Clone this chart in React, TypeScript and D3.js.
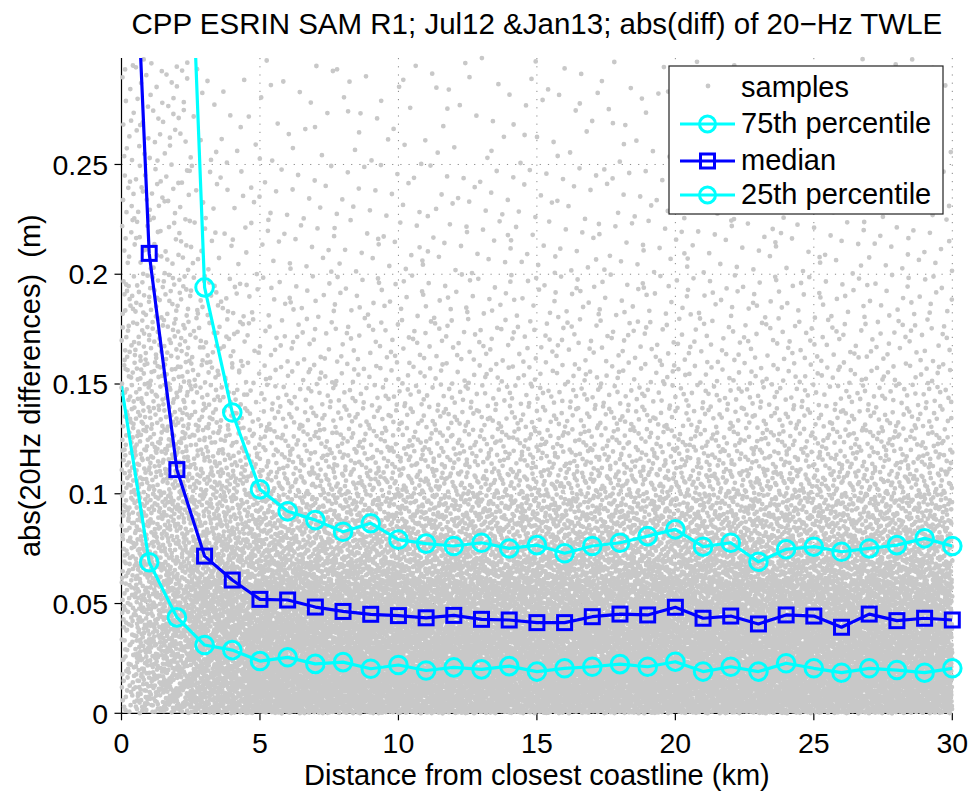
import React, { useMemo } from 'react';
import * as d3 from 'd3';

// chart values
const distanceKm = [0, 1, 2, 3, 4, 5, 6, 7, 8, 9, 10, 11, 12, 13, 14, 15, 16, 17, 18, 19, 20, 21, 22, 23, 24, 25, 26, 27, 28, 29, 30];
const p75 = [1.3, 0.86, 0.52, 0.194, 0.137, 0.102, 0.092, 0.088, 0.0827, 0.0866, 0.0791, 0.0773, 0.0762, 0.0777, 0.0751, 0.0766, 0.0729, 0.0762, 0.0777, 0.0807, 0.0838, 0.0759, 0.0777, 0.069, 0.0747, 0.0759, 0.0736, 0.0751, 0.0766, 0.0797, 0.0762];
const median = [0.5, 0.2095, 0.111, 0.0716, 0.0607, 0.0519, 0.0516, 0.0484, 0.0464, 0.0451, 0.0445, 0.0435, 0.0446, 0.0428, 0.0425, 0.0413, 0.0413, 0.044, 0.0452, 0.0448, 0.0483, 0.0433, 0.0443, 0.0407, 0.0448, 0.0443, 0.0392, 0.0452, 0.0422, 0.0433, 0.0425];
const p25 = [0.149, 0.0688, 0.0437, 0.0311, 0.0288, 0.0238, 0.0255, 0.0225, 0.0233, 0.0203, 0.022, 0.0195, 0.0209, 0.02, 0.0215, 0.019, 0.0205, 0.0212, 0.0224, 0.0212, 0.0235, 0.019, 0.0212, 0.019, 0.0228, 0.0205, 0.0185, 0.0205, 0.0197, 0.0185, 0.0205];

const xTicks = [0, 5, 10, 15, 20, 25, 30];
const yTicks = [0, 0.05, 0.1, 0.15, 0.2, 0.25];
const yTickLabels = ['0', '0.05', '0.1', '0.15', '0.2', '0.25'];
const yMax = 0.2985;

// the grey samples cloud: dots per km in each band
const sampleXEdges = [0, 0.5, 1.5, 2.5, 3.5, 4.5, 30];
const sampleYEdges = [0, 0.02, 0.04, 0.06, 0.07, 0.08, 0.09, 0.1, 0.11, 0.12, 0.13, 0.14, 0.15, 0.16, 0.18, 0.2, 0.225, 0.25, yMax];
const sampleCounts = [
  [40, 44, 48, 24, 24, 24, 24, 22, 22, 19, 17, 17, 16, 25, 23, 16, 16, 23],
  [75, 75, 72, 32, 30, 28, 28, 25, 23, 20, 18, 17, 16, 27, 23, 16, 16, 23],
  [95, 95, 88, 37, 35, 31, 29, 26, 24, 20, 18, 17, 15, 26, 20, 14, 13, 21],
  [120, 118, 108, 42, 38, 32, 28, 24, 21, 17, 15, 13, 11, 17, 14, 9, 7, 8],
  [140, 135, 120, 45, 40, 33, 28, 23, 19, 15, 13, 11, 9, 14, 10, 6, 5, 7],
  [180, 165, 140, 50, 40, 32, 26, 20, 15, 12, 9.5, 7.5, 6, 9.5, 7, 6, 5, 6],
];

const W = 971, H = 792;
const FONT = '"Liberation Sans", Arial, Helvetica, sans-serif';
const CYAN = '#00ffff';
const BLUE = '#0000ff';
const GREY = '#c8c8c8';

const left = 121.5, right = 952.3, top = 58, bottom = 713.3;

// low discrepancy placement inside each band (deterministic)
const halton = (i: number, b: number) => {
  let f = 1, r = 0;
  while (i > 0) {
    f /= b;
    r += f * (i % b);
    i = Math.floor(i / b);
  }
  return r;
};

const App = () => {
  const x = d3.scaleLinear().domain([0, 30]).range([left, right]);
  const y = d3.scaleLinear().domain([0, yMax]).range([bottom, top]);

  const samplePath = useMemo(() => {
    const r = 2.4;
    let d = '';
    sampleCounts.forEach((row, c) => {
      const x0 = sampleXEdges[c], x1 = sampleXEdges[c + 1];
      row.forEach((count, b) => {
        const y0 = sampleYEdges[b], y1 = sampleYEdges[b + 1];
        const n = Math.round(count * (x1 - x0));
        const start = 7 + (c * 20 + b) * 5003;
        for (let i = 0; i < n; i++) {
          const px = x(x0 + halton(start + i, 2) * (x1 - x0));
          const py = y(y0 + halton(start + i, 3) * (y1 - y0));
          d += `M${(px - r).toFixed(1)},${py.toFixed(1)}a${r},${r} 0 1,0 ${2 * r},0a${r},${r} 0 1,0 ${-2 * r},0`;
        }
      });
    });
    return d;
  }, []);

  const line = (vals: number[]) =>
    d3.line<number>().x((_, i) => x(distanceKm[i])).y(v => y(v))(vals) || '';

  // markers only where the point sits inside the axes
  const inside = (vals: number[]) =>
    vals.map((v, i) => ({ d: distanceKm[i], v })).filter(p => p.d > 0 && p.v <= yMax);

  const legendX = 669, legendY = 66, legendW = 274, legendH = 148;
  const rows = [
    { label: 'samples', cy: 88 },
    { label: '75th percentile', cy: 124, color: CYAN, marker: 'circle' },
    { label: 'median', cy: 161, color: BLUE, marker: 'square' },
    { label: '25th percentile', cy: 195, color: CYAN, marker: 'circle' },
  ];

  return (
    <svg width={W} height={H} style={{ display: 'block', position: 'absolute', left: 0, top: 0 }} fontFamily={FONT}>
      <rect width={W} height={H} fill="white" />
      <defs>
        <clipPath id="plotClip">
          <rect x={left} y={top} width={right - left} height={bottom - top} />
        </clipPath>
      </defs>

      {/* grid */}
      <g stroke="#8a8a8a" strokeWidth={1} strokeDasharray="1.2,7">
        {xTicks.map(t => <line key={'gx' + t} x1={x(t)} x2={x(t)} y1={top} y2={bottom} />)}
        {yTicks.map(t => <line key={'gy' + t} x1={left} x2={right} y1={y(t)} y2={y(t)} />)}
      </g>

      {/* axes */}
      <g stroke="black" strokeWidth={1.2}>
        <line x1={left} x2={left} y1={top} y2={bottom} />
        <line x1={left} x2={right} y1={bottom} y2={bottom} />
        {xTicks.map(t => <line key={'tx' + t} x1={x(t)} x2={x(t)} y1={bottom} y2={bottom + 7} />)}
        {yTicks.map(t => <line key={'ty' + t} x1={left - 7} x2={left} y1={y(t)} y2={y(t)} />)}
      </g>

      <path d={samplePath} fill={GREY} />

      <g clipPath="url(#plotClip)" fill="none" strokeWidth={3.2} strokeLinejoin="round">
        <path d={line(p75)} stroke={CYAN} />
        <path d={line(median)} stroke={BLUE} />
        <path d={line(p25)} stroke={CYAN} />
      </g>
      <g fill="none" strokeWidth={3}>
        {inside(p75).map(p => <circle key={'a' + p.d} cx={x(p.d)} cy={y(p.v)} r={8.8} stroke={CYAN} />)}
        {inside(median).map(p => (
          <rect key={'m' + p.d} x={x(p.d) - 7} y={y(p.v) - 7} width={14} height={14} stroke={BLUE} />
        ))}
        {inside(p25).map(p => <circle key={'b' + p.d} cx={x(p.d)} cy={y(p.v)} r={8.8} stroke={CYAN} />)}
      </g>

      {/* tick labels */}
      <g fontSize={28.5} fill="black">
        {xTicks.map(t => (
          <text key={'lx' + t} x={x(t)} y={753} textAnchor="middle">{t}</text>
        ))}
        {yTicks.map((t, i) => (
          <text key={'ly' + t} x={108} y={y(t)} dy="0.36em" textAnchor="end">{yTickLabels[i]}</text>
        ))}
      </g>

      <text x={(left + right) / 2} y={784.5} textAnchor="middle" fontSize={29}>Distance from closest coastline (km)</text>
      <text
        transform={`translate(40,${(top + bottom) / 2}) rotate(-90)`}
        textAnchor="middle"
        fontSize={29}
        style={{ whiteSpace: 'pre' }}
      >
        {'abs(20Hz differences)  (m)'}
      </text>
      <text x={(left + right) / 2} y={34} textAnchor="middle" fontSize={29.5}>
        CPP ESRIN SAM R1; Jul12 &amp;Jan13; abs(diff) of 20−Hz TWLE
      </text>

      {/* legend */}
      <rect x={legendX} y={legendY} width={legendW} height={legendH} fill="white" stroke="#222" strokeWidth={1.2} />
      {rows.map(r => (
        <g key={r.label}>
          {r.color ? (
            <>
              <line x1={680} x2={735} y1={r.cy} y2={r.cy} stroke={r.color} strokeWidth={3.2} />
              {r.marker === 'circle' ? (
                <circle cx={707.5} cy={r.cy} r={8} fill="none" stroke={r.color} strokeWidth={3} />
              ) : (
                <rect x={700.5} y={r.cy - 7} width={14} height={14} fill="none" stroke={r.color} strokeWidth={3} />
              )}
            </>
          ) : (
            <circle cx={708} cy={r.cy - 2} r={2.4} fill={GREY} />
          )}
          <text x={741} y={r.cy + 9} fontSize={29}>{r.label}</text>
        </g>
      ))}
    </svg>
  );
};

export default App;
